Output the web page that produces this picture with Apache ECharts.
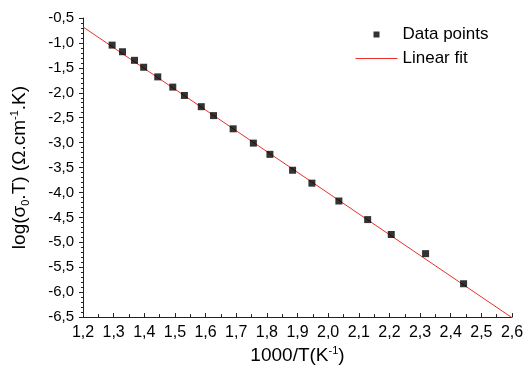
<!DOCTYPE html>
<html>
<head>
<meta charset="utf-8">
<script src="https://cdn.jsdelivr.net/npm/echarts@6/dist/echarts.min.js"></script>
<style>html,body{margin:0;padding:0;background:#fff;}#c{width:529px;height:372px;}</style>
</head>
<body>
<div id="c"></div>
<script>
// Data
const invT = [1.295, 1.329, 1.368, 1.398, 1.444, 1.493, 1.531, 1.586, 1.626, 1.690, 1.756, 1.810, 1.884, 1.947, 2.035, 2.129, 2.206, 2.318, 2.442];
const logSigmaT = [-1.044, -1.177, -1.349, -1.488, -1.681, -1.886, -2.054, -2.279, -2.458, -2.723, -3.010, -3.235, -3.554, -3.813, -4.171, -4.544, -4.843, -5.227, -5.831];
const fitX = [1.2, 2.6];
const fitY = [-0.679, -6.512];
const seriesNames = ['Data points', 'Linear fit'];

const FONT = "'Liberation Sans', Arial, sans-serif";
const fmt = v => v.toFixed(1).replace('.', ',');

const chart = echarts.init(document.getElementById('c'));
chart.setOption({
  animation: false,
  backgroundColor: '#fff',
  textStyle: { fontFamily: FONT },
  grid: { left: 83, right: 17, top: 18, bottom: 53, containLabel: false },
  legend: {
    left: 350, top: 21, orient: 'vertical',
    itemWidth: 42, itemHeight: 6, itemGap: 7, symbolKeepAspect: true,
    textStyle: { fontFamily: FONT, fontSize: 17, color: '#000' },
    data: [
      { name: seriesNames[0], icon: 'path://M0,0L10,0L10,10L0,10Z', itemStyle: { color: '#000' } },
      { name: seriesNames[1], itemStyle: { opacity: 0 }, lineStyle: { width: 1, color: '#e8302c', opacity: 1 } }
    ]
  },
  xAxis: {
    type: 'value', min: 1.2, max: 2.6, interval: 0.1,
    name: '1000/T(K{sup|-1})',
    nameLocation: 'middle', nameGap: 24,
    nameTextStyle: {
      fontFamily: FONT, fontSize: 19, color: '#000', lineHeight: 22,
      rich: { sup: { fontSize: 11, verticalAlign: 'top', lineHeight: 12, color: '#000', fontFamily: FONT } }
    },
    axisLine: { show: true, lineStyle: { color: '#222', width: 1 } },
    axisTick: { show: true, inside: true, length: 4, lineStyle: { color: '#222' } },
    minorTick: { show: true, splitNumber: 2, length: 3, lineStyle: { color: '#222' } },
    splitLine: { show: false },
    axisLabel: { fontFamily: FONT, fontSize: 16, color: '#000', margin: 7, formatter: fmt }
  },
  yAxis: {
    type: 'value', min: -6.5, max: -0.5, interval: 0.5,
    name: 'log(σ{sub|0}.T) (Ω.cm{sup|-1}.K)',
    nameLocation: 'middle', nameGap: 52,
    nameTextStyle: {
      fontFamily: FONT, fontSize: 19, color: '#000', lineHeight: 22,
      rich: {
        sub: { fontSize: 11, verticalAlign: 'bottom', lineHeight: 12, color: '#000', fontFamily: FONT },
        sup: { fontSize: 11, verticalAlign: 'top', lineHeight: 12, color: '#000', fontFamily: FONT }
      }
    },
    axisLine: { show: true, lineStyle: { color: '#222', width: 1 } },
    axisTick: { show: true, inside: false, length: 4, lineStyle: { color: '#222' } },
    minorTick: { show: true, splitNumber: 5, length: 2, lineStyle: { color: '#222' } },
    splitLine: { show: false },
    axisLabel: { fontFamily: FONT, fontSize: 15, color: '#000', margin: 9, formatter: fmt }
  },
  series: [
    {
      name: seriesNames[0], type: 'scatter', symbol: 'rect', symbolSize: 7,
      itemStyle: { color: '#000' }, z: 3,
      data: invT.map((x, i) => [x, logSigmaT[i]])
    },
    {
      name: seriesNames[1], type: 'line', symbol: 'none', showSymbol: false,
      lineStyle: { color: '#e8302c', width: 1 }, itemStyle: { color: '#e8302c' },
      clip: true, z: 2,
      data: fitX.map((x, i) => [x, fitY[i]])
    }
  ]
});
</script>
</body>
</html>
